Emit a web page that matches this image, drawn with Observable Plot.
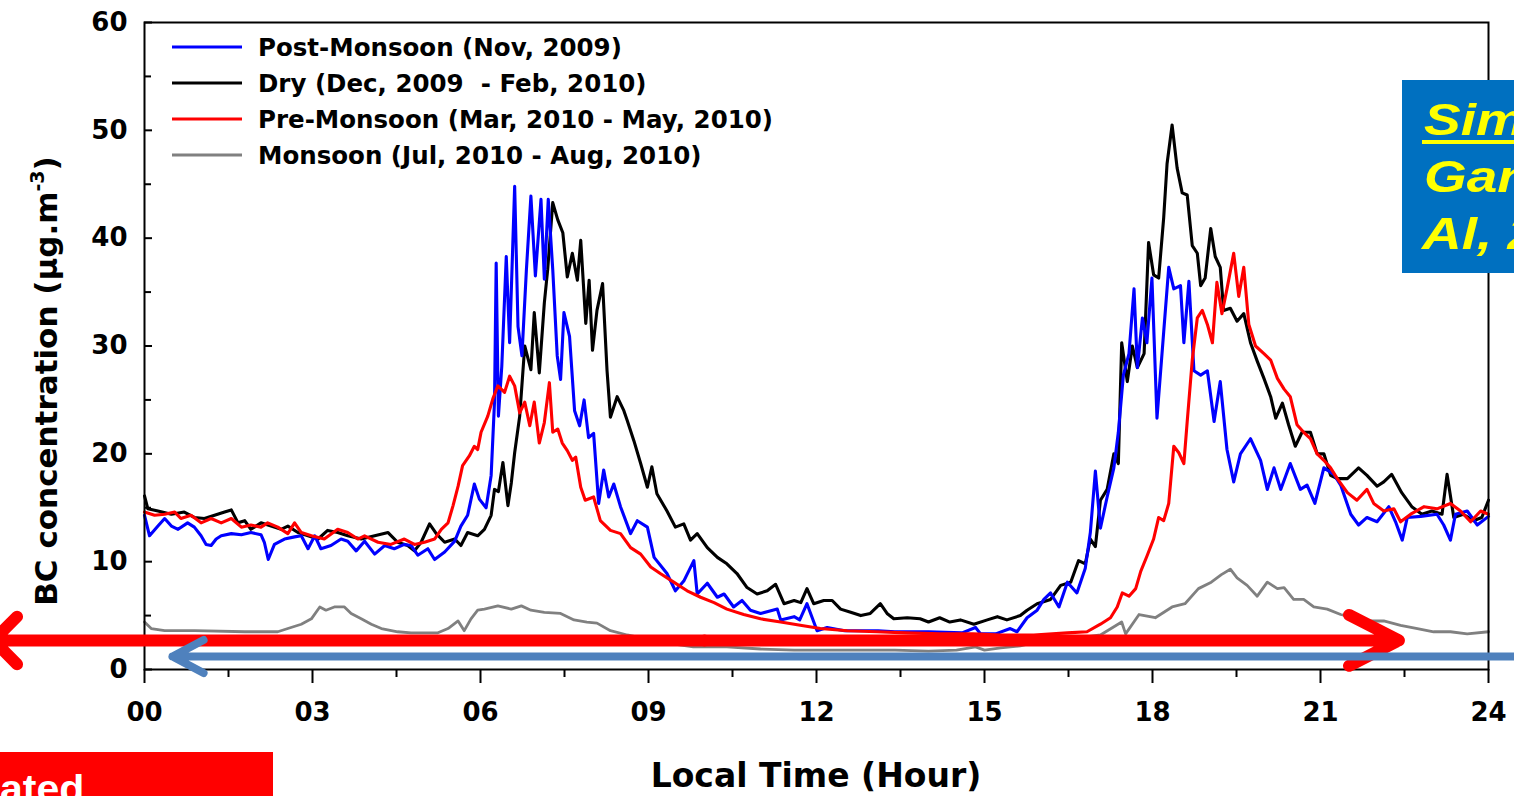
<!DOCTYPE html>
<html><head><meta charset="utf-8">
<script src="https://cdn.jsdelivr.net/npm/d3@7"></script>
<script src="https://cdn.jsdelivr.net/npm/@observablehq/plot@0.6"></script>
<style>
html,body{margin:0;padding:0;background:#fff;overflow:hidden;}
#chart svg{display:block;overflow:hidden;}
</style></head><body><div id="chart"></div>
<script>
// ---- Data ----
const seriesNames = ["Post-Monsoon (Nov, 2009)", "Dry (Dec, 2009  - Feb, 2010)", "Pre-Monsoon (Mar, 2010 - May, 2010)", "Monsoon (Jul, 2010 - Aug, 2010)"];
const seriesColors = ["#0000ff", "#000000", "#ff0000", "#808080"];

const postHours = [0,0.09,0.24,0.36,0.48,0.6,0.77,0.89,1.01,1.1,1.19,1.28,1.37,1.55,1.73,1.9,2.08,2.14,2.21,2.32,2.5,2.68,2.8,2.92,3.04,3.15,3.33,3.51,3.63,3.78,3.93,4.11,4.29,4.46,4.64,4.76,4.88,5.06,5.18,5.36,5.54,5.65,5.77,5.89,5.98,6.1,6.19,6.25,6.28,6.32,6.38,6.46,6.52,6.61,6.67,6.74,6.82,6.9,6.98,7.08,7.14,7.21,7.29,7.37,7.43,7.49,7.59,7.68,7.77,7.85,7.93,8.02,8.11,8.2,8.29,8.38,8.5,8.68,8.8,8.98,9.1,9.33,9.48,9.63,9.81,9.87,10.05,10.23,10.35,10.52,10.67,10.82,11.0,11.3,11.36,11.6,11.7,11.83,12.01,12.19,12.5,12.79,13.1,13.4,14.0,14.6,14.84,14.93,15.2,15.46,15.58,15.76,15.94,16.06,16.18,16.33,16.48,16.65,16.8,16.89,16.98,17.07,17.19,17.31,17.39,17.48,17.58,17.67,17.73,17.82,17.9,17.99,18.08,18.2,18.29,18.38,18.5,18.56,18.65,18.74,18.86,18.98,19.1,19.21,19.33,19.45,19.57,19.75,19.93,20.05,20.17,20.29,20.46,20.64,20.76,20.9,21.06,21.24,21.36,21.54,21.68,21.83,22.01,22.22,22.34,22.46,22.55,22.79,23.08,23.2,23.32,23.41,23.62,23.8,24];
const postValues = [14.3,12.4,13.3,14.0,13.3,13.0,13.6,13.2,12.4,11.6,11.5,12.1,12.4,12.6,12.5,12.7,12.5,11.8,10.2,11.6,12.1,12.3,12.4,11.2,12.4,11.2,11.5,12.1,11.9,11.0,11.9,10.7,11.5,11.2,11.6,11.5,10.6,11.2,10.2,10.9,11.9,13.3,14.3,17.2,15.8,15.0,18.0,24.8,37.7,23.5,28.1,38.3,30.3,44.8,31.8,29.1,37.1,43.9,36.5,43.6,36.2,43.6,37.1,29.1,26.9,33.1,30.9,24.0,22.6,25.0,21.5,21.9,15.4,18.5,16.0,17.2,15.1,12.6,13.8,13.2,10.4,8.9,7.3,8.2,10.1,7.0,8.0,6.7,7.0,5.8,6.4,5.5,5.2,5.6,4.6,4.9,4.6,6.1,3.6,3.9,3.6,3.6,3.6,3.5,3.5,3.4,3.9,3.3,3.3,3.8,3.5,4.8,5.5,6.5,7.1,5.8,8.1,7.1,9.4,12.7,18.4,13.1,16.0,18.7,22.0,27.3,29.3,35.3,28.0,32.6,30.3,36.3,23.3,31.3,37.3,35.3,35.6,30.3,36.0,27.7,27.3,27.7,23.0,26.7,20.4,17.4,20.0,21.4,19.4,16.7,18.7,16.7,19.1,16.7,17.1,15.4,18.7,18.1,17.1,14.4,13.4,14.1,13.7,15.1,13.7,12.0,14.1,14.2,14.4,13.4,12.0,14.4,14.7,13.4,14.2];

const dryHours = [0,0.06,0.24,0.48,0.71,0.89,1.07,1.25,1.43,1.55,1.67,1.79,1.9,2.08,2.26,2.44,2.56,2.74,2.92,3.1,3.27,3.45,3.63,3.87,4.11,4.35,4.52,4.7,4.82,4.94,5.09,5.21,5.36,5.54,5.65,5.77,5.95,6.07,6.19,6.25,6.32,6.4,6.49,6.55,6.61,6.7,6.79,6.9,6.96,7.05,7.14,7.2,7.29,7.38,7.47,7.55,7.64,7.73,7.79,7.88,7.94,8.0,8.08,8.18,8.26,8.32,8.44,8.56,8.62,8.74,8.86,8.98,9.06,9.15,9.33,9.48,9.63,9.75,9.87,10.05,10.23,10.4,10.58,10.76,10.94,11.12,11.27,11.42,11.6,11.72,11.83,11.95,12.13,12.28,12.43,12.61,12.79,12.96,13.14,13.26,13.38,13.62,13.85,14.0,14.2,14.38,14.57,14.81,15.05,15.23,15.4,15.64,15.76,15.94,16.18,16.36,16.54,16.68,16.8,16.89,16.98,17.07,17.19,17.31,17.39,17.45,17.55,17.64,17.73,17.85,17.93,18.02,18.11,18.2,18.26,18.35,18.44,18.53,18.62,18.71,18.8,18.86,18.94,19.04,19.12,19.21,19.27,19.39,19.51,19.63,19.75,19.87,19.99,20.11,20.2,20.32,20.43,20.55,20.67,20.82,20.94,21.06,21.18,21.3,21.48,21.68,21.83,22.01,22.13,22.27,22.45,22.63,22.81,22.99,23.17,23.26,23.38,23.55,23.73,23.88,24];
const dryValues = [16.1,14.9,14.7,14.4,14.6,14.1,14.0,14.3,14.6,14.8,13.6,13.8,13.0,13.6,13.3,13.0,13.3,12.7,12.4,12.1,12.9,12.7,12.4,12.1,12.4,12.7,11.8,11.5,11.0,11.8,13.5,12.6,11.8,12.1,11.5,12.7,12.4,13.0,14.3,16.7,16.5,19.2,15.2,17.3,20.1,23.5,30.0,27.8,33.1,27.5,34.0,37.1,43.3,41.7,40.5,36.4,38.6,36.1,39.8,32.1,36.1,29.6,33.3,35.8,27.7,23.4,25.3,24.0,23.1,21.2,19.1,16.9,18.8,16.3,14.7,13.2,13.5,12.0,12.6,11.3,10.4,9.8,8.9,7.6,7.0,7.3,7.9,6.1,6.4,6.2,7.5,6.1,6.4,6.4,5.6,5.3,5.0,5.2,6.1,5.2,4.7,4.8,4.7,4.4,4.8,4.4,4.6,4.2,4.6,4.9,4.6,5.0,5.5,6.1,6.5,7.8,8.1,10.1,9.8,12.1,11.4,15.7,16.7,20.0,19.1,30.3,26.7,30.0,28.0,29.3,39.6,36.6,36.3,41.9,46.9,50.5,46.5,44.2,44.0,39.3,38.6,35.6,36.3,40.9,38.3,37.3,33.3,33.5,32.3,33.0,30.3,28.6,27.0,25.3,23.3,24.7,22.7,20.7,22.0,22.0,20.0,20.0,18.0,17.7,17.7,18.7,18.0,17.0,17.4,18.1,16.4,15.1,14.4,14.7,14.4,18.1,14.1,14.4,13.8,14.1,15.7];

const preHours = [0,0.18,0.36,0.54,0.65,0.83,1.01,1.19,1.37,1.55,1.73,1.9,2.08,2.2,2.38,2.56,2.68,2.8,2.98,3.21,3.45,3.63,3.81,3.93,4.17,4.4,4.64,4.82,5.0,5.18,5.3,5.42,5.51,5.6,5.68,5.8,5.89,5.95,6.01,6.13,6.22,6.31,6.43,6.52,6.61,6.7,6.79,6.88,6.96,7.05,7.14,7.23,7.29,7.38,7.46,7.55,7.64,7.7,7.79,7.87,8.02,8.14,8.32,8.5,8.68,8.86,9.04,9.21,9.45,9.69,9.93,10.17,10.4,10.7,11.0,11.36,11.71,12.07,12.55,13.08,13.6,14.2,14.8,15.29,15.88,16.48,16.83,17.07,17.25,17.37,17.46,17.58,17.7,17.79,17.9,18.02,18.11,18.2,18.29,18.38,18.47,18.56,18.62,18.71,18.8,18.89,18.98,19.07,19.15,19.24,19.33,19.45,19.54,19.63,19.72,19.84,19.99,20.11,20.23,20.35,20.46,20.58,20.7,20.82,20.94,21.06,21.18,21.3,21.48,21.65,21.83,21.95,22.13,22.31,22.43,22.61,22.85,23.08,23.32,23.5,23.68,23.86,24];
const preValues = [14.6,14.3,14.4,14.6,14.0,14.3,13.6,14.0,13.6,14.0,13.2,13.4,13.2,13.6,13.2,12.6,13.6,12.7,12.4,12.1,13.0,12.7,12.1,12.4,11.8,11.6,12.1,11.6,11.8,12.1,13.0,13.6,15.2,17.0,18.9,19.8,20.7,20.4,22.0,23.5,25.1,26.3,25.7,27.2,26.3,23.8,24.8,22.6,24.8,21.0,22.9,26.6,22.0,22.3,21.0,20.3,19.4,19.7,16.9,15.7,16.0,13.8,12.9,12.6,11.3,10.7,9.5,8.9,8.1,7.3,6.7,6.2,5.6,5.1,4.7,4.4,4.1,3.8,3.6,3.5,3.4,3.3,3.3,3.2,3.2,3.4,3.5,4.2,4.8,5.8,7.1,6.8,7.5,9.1,10.5,12.1,14.1,13.8,15.4,20.7,20.1,19.1,23.0,28.7,32.6,33.3,32.0,30.3,35.9,33.0,35.3,38.6,34.6,37.3,32.0,30.0,29.3,28.7,27.0,26.0,25.3,22.7,22.0,21.4,20.0,19.4,18.7,17.7,16.4,15.7,16.7,15.4,14.7,14.9,13.7,14.4,15.1,14.9,15.4,14.7,13.7,14.7,14.4];

const monHours = [0,0.12,0.36,0.9,1.79,2.38,2.56,2.8,2.98,3.13,3.24,3.39,3.57,3.69,3.87,4.05,4.23,4.52,4.76,5.24,5.42,5.6,5.71,5.83,5.95,6.07,6.31,6.55,6.73,6.9,7.14,7.43,7.67,7.9,8.08,8.32,8.62,9.0,9.4,9.8,10.4,11.0,11.6,12.2,12.8,13.4,14.0,14.5,14.84,15.0,15.29,15.64,15.88,16.48,17.07,17.45,17.52,17.76,18.05,18.35,18.58,18.82,19.05,19.23,19.39,19.51,19.69,19.87,20.05,20.23,20.35,20.52,20.7,20.88,21.12,21.36,21.6,21.83,22.13,22.43,22.73,23.02,23.32,23.62,24];
const monValues = [4.4,3.8,3.6,3.6,3.5,3.5,3.8,4.2,4.7,5.8,5.5,5.8,5.8,5.2,4.7,4.2,3.8,3.5,3.4,3.4,3.8,4.5,3.6,4.7,5.5,5.6,5.9,5.6,5.9,5.5,5.3,5.2,4.6,4.4,4.3,3.6,3.2,2.8,2.4,2.1,2.1,1.9,1.8,1.8,1.8,1.8,1.7,1.8,2.1,1.8,2.0,2.2,2.5,2.8,3.2,4.4,3.3,5.1,4.8,5.8,6.1,7.5,8.1,8.8,9.3,8.5,7.8,6.8,8.1,7.5,7.6,6.5,6.5,5.8,5.6,5.1,4.8,4.5,4.5,4.1,3.8,3.5,3.5,3.3,3.5];

const xMajorTicks = [0, 3, 6, 9, 12, 15, 18, 21, 24];
const xTickLabels = ["00", "03", "06", "09", "12", "15", "18", "21", "24"];
const xMinorTicks = [1.5, 4.5, 7.5, 10.5, 13.5, 16.5, 19.5, 22.5];
const yMajorTicks = [0, 10, 20, 30, 40, 50, 60];
const yMinorTicks = [5, 15, 25, 35, 45, 55];

// annotation arrows (data coordinates: hour, concentration)
const redArrow = {y: 2.7, mid: 10, right: 22.4, left: -2.7};
const blueArrow = {y: 1.2, from: 24.8, to: 0.5};

// ---- Build table ----
const seriesHours = [postHours, dryHours, preHours, monHours];
const seriesValues = [postValues, dryValues, preValues, monValues];
const table = [];
seriesNames.forEach((name, s) => seriesHours[s].forEach((h, i) => table.push({series: name, hour: h, value: seriesValues[s][i]})));

const lineFor = (s, w) => Plot.line(table.filter(d => d.series === seriesNames[s]),
  {x: "hour", y: "value", stroke: seriesColors[s], strokeWidth: w, strokeLinejoin: "round"});

const plot = Plot.plot({
  width: 1514, height: 796,
  marginLeft: 144, marginRight: 26, marginTop: 22, marginBottom: 127,
  x: {domain: [0, 24]},
  y: {domain: [0, 60]},
  style: {fontFamily: "'DejaVu Sans', sans-serif", fontWeight: "bold", background: "white", color: "black", overflow: "hidden"},
  marks: [
    lineFor(3, 2.8),
    lineFor(1, 3.1),
    lineFor(0, 3.1),
    lineFor(2, 3.1),
    Plot.tickY(yMajorTicks, {y: d => d, insetRight: 1336, stroke: "black", strokeWidth: 2}),
    Plot.tickY(yMinorTicks, {y: d => d, insetRight: 1337, stroke: "black", strokeWidth: 2}),
    Plot.frame({stroke: "black", strokeWidth: 2}),
    Plot.axisX({ticks: xMajorTicks, tickSize: 14, strokeWidth: 2, tickFormat: () => "", label: null}),
    Plot.axisX({ticks: xMinorTicks, tickSize: 8, strokeWidth: 2, tickFormat: () => "", label: null}),
    Plot.axisX({ticks: xMajorTicks, tickSize: 0, tickPadding: 33, fontSize: 26, fontWeight: "bold",
      tickFormat: d => xTickLabels[xMajorTicks.indexOf(d)], label: null}),
    Plot.axisY({ticks: yMajorTicks, tickSize: 0, tickPadding: 17, fontSize: 26, fontWeight: "bold", label: null}),
    Plot.arrow([redArrow], {x1: "mid", x2: "right", y1: "y", y2: "y", stroke: "#ff0000", strokeWidth: 12, headLength: 7, headAngle: 54, strokeLinejoin: "round"}),
    Plot.arrow([redArrow], {x1: "mid", x2: "left", y1: "y", y2: "y", stroke: "#ff0000", strokeWidth: 12, headLength: 4.2, headAngle: 90, strokeLinejoin: "round"}),
    Plot.arrow([blueArrow], {x1: "from", x2: "to", y1: "y", y2: "y", stroke: "#4f81bd", strokeWidth: 8, headLength: 6.6, headAngle: 56, strokeLinejoin: "round"})
  ]
});

const svg = d3.select(plot);

// Y axis title with superscript
const yt = svg.append("text")
  .attr("transform", "translate(57,381) rotate(-90)")
  .attr("text-anchor", "middle")
  .style("font-size", "31px").style("font-weight", "bold").attr("fill", "black");
yt.append("tspan").text("BC concentration (µg.m");
yt.append("tspan").attr("dy", -13).style("font-size", "19px").text("-3");
yt.append("tspan").attr("dy", 13).text(")");

// X axis title
svg.append("text").attr("x", 816).attr("y", 787).attr("text-anchor", "middle")
  .style("font-size", "33px").style("font-weight", "bold").attr("fill", "black")
  .text("Local Time (Hour)");

// Legend
seriesNames.forEach((name, i) => {
  const y = 47 + i * 36;
  svg.append("line").attr("x1", 172).attr("x2", 242).attr("y1", y).attr("y2", y)
    .attr("stroke", seriesColors[i]).attr("stroke-width", 3);
  svg.append("text").attr("x", 258).attr("y", y).attr("dy", "0.36em")
    .attr("text-anchor", "start")
    .style("font-size", "24.5px").style("font-weight", "bold").style("white-space", "pre")
    .attr("fill", "black").text(name);
});

// Blue note box (clipped at the right edge, as in the source slide)
svg.append("rect").attr("x", 1402).attr("y", 80).attr("width", 200).attr("height", 193).attr("fill", "#0070c0");
const noteLines = ["Similar to", "Gangwar et", "Al, 2012"];
noteLines.forEach((t, i) => {
  svg.append("text")
    .attr("transform", `translate(${1424 - (i === 2 ? 2 : 0)},${135 + i * 57}) scale(1.25,1)`)
    .attr("text-anchor", "start")
    .style("font-size", "44px").style("font-weight", "bold").style("font-style", "italic")
    .style("font-family", "'Liberation Sans', Arial, sans-serif")
    .attr("fill", "#ffff00").text(t);
});
svg.append("rect").attr("x", 1422).attr("y", 140).attr("width", 120).attr("height", 4).attr("fill", "#ffff00");

// Red box bottom-left (clipped at the edges, as in the source slide)
svg.append("rect").attr("x", 0).attr("y", 752).attr("width", 273).attr("height", 60).attr("fill", "#ff0000");
svg.append("text").attr("transform", "translate(0,802) scale(1.08,1)")
  .attr("text-anchor", "start")
  .style("font-size", "38px").style("font-weight", "bold")
  .style("font-family", "'Liberation Sans', Arial, sans-serif")
  .attr("fill", "white").text("ated");

document.getElementById("chart").appendChild(plot);
</script></body></html>
